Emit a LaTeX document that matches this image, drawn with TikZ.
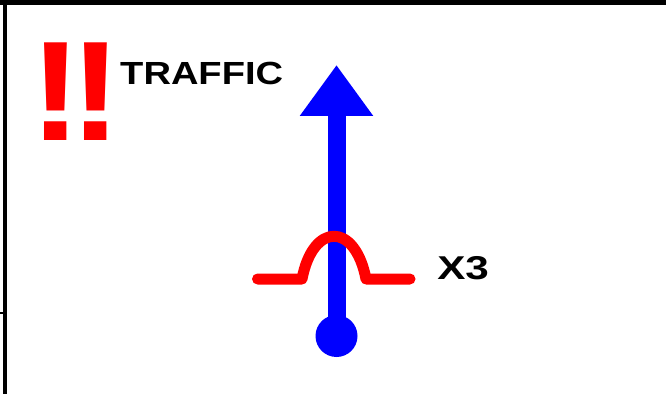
\documentclass[tikz,border=0pt]{standalone}
\usepackage{fontspec}
\setmainfont{Liberation Sans}
\usetikzlibrary{arrows.meta}
\tikzset{
  frameline/.style={black, line width=#1},
  label/.style={inner sep=0pt, anchor=base west, font=\bfseries\fontsize{32}{32}\selectfont, xscale=1.19},
  biglabel/.style={inner sep=0pt, anchor=base west, font=\bfseries\fontsize{33}{33}\selectfont, xscale=1.28},
  bang/.style={inner sep=0pt, anchor=base west, red, font=\bfseries\fontsize{142}{142}\selectfont, xscale=1.12},
  bluearrow/.style={blue, line width=18pt, -{Triangle[width=70pt,length=51pt]}},
  redwave/.style={red, line width=11pt, line cap=round, line join=round}
}
\begin{document}
\begin{tikzpicture}[x=1pt,y=1pt]
\useasboundingbox (0,0) rectangle (666,394);
% frame
\coordinate (tl) at (5,394);
\coordinate (bl) at (5,0);
\coordinate (tr) at (666,391.5);
\coordinate (tll) at (0,391.5);
\draw[frameline=4pt] (tl) -- (bl);
\draw[frameline=5pt] (tll) -- (tr);
\coordinate (t1) at (0,81);
\coordinate (t2) at (4,81);
\draw[frameline=2.5pt] (t1) -- (t2);
% texts
\node[bang] (bangs) at (29,253) {!\kern-11pt!};
\node[label] (traffic) at (120,309) {TRAFFIC};
\node[biglabel] (x3) at (437,115) {X3};
% blue arrow
\node[circle, fill=blue, minimum size=42pt, inner sep=0pt] (base) at (336.5,58) {};
\coordinate (tip) at (336.5,329);
\draw[bluearrow] (base.center) -- (tip);
% red wave
\coordinate (w0) at (257.5,115);
\coordinate (w1) at (302,115);
\coordinate (w2) at (366,115);
\coordinate (w3) at (410,115);
\draw[redwave] (w0) -- (w1) .. controls (313,172) and (355,172) .. (w2) -- (w3);
\end{tikzpicture}
\end{document}
